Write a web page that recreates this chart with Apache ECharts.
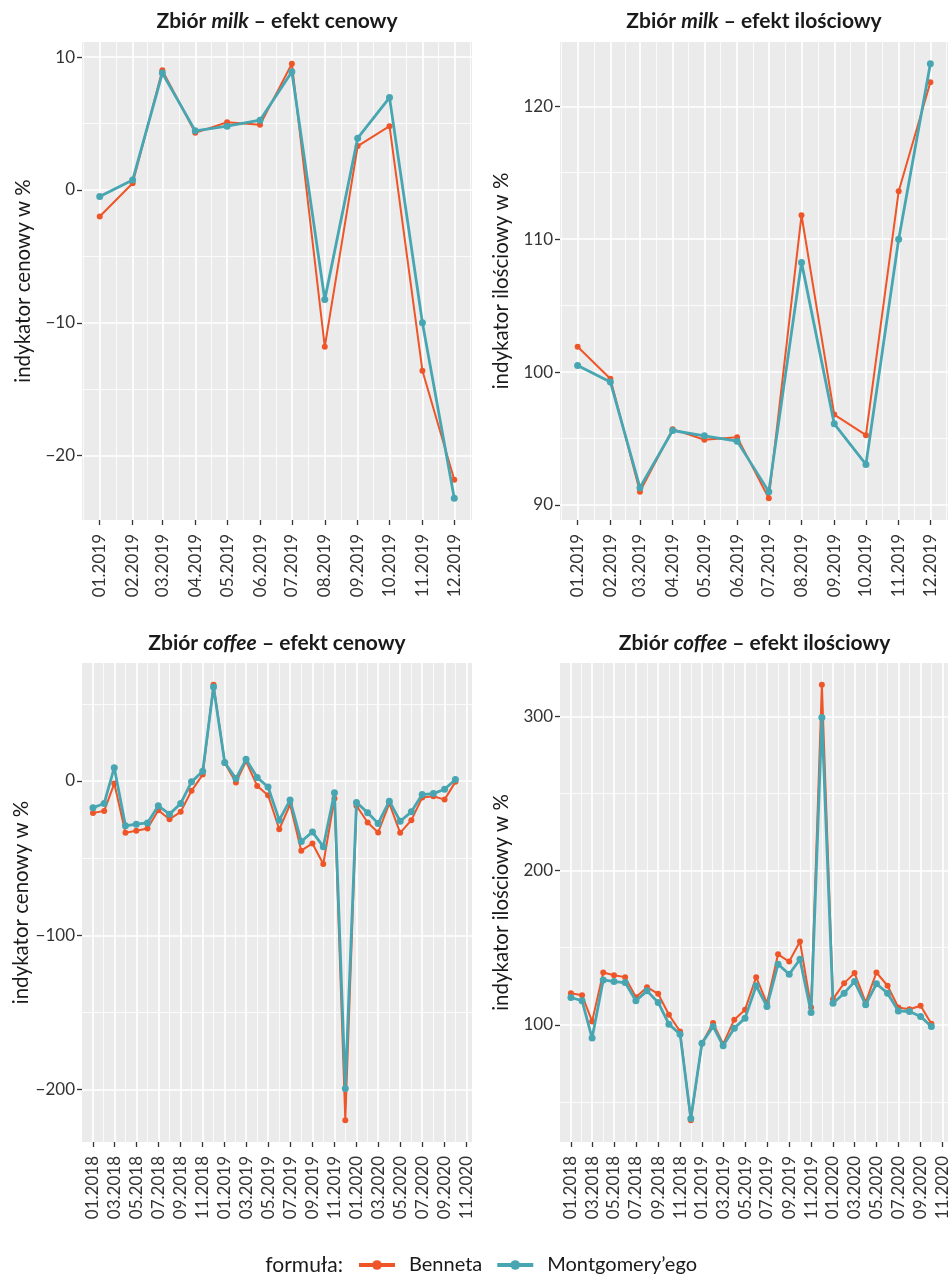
<!DOCTYPE html>
<html>
<head>
<meta charset="utf-8">
<script src="https://cdn.jsdelivr.net/npm/echarts@6/dist/echarts.min.js"></script>
<style>
  html, body { margin: 0; padding: 0; background: #ffffff; }
  #chart { width: 951px; height: 1276px; }
</style>
</head>
<body>
<div id="chart"></div>
<script>
// ---- data: milk (monthly, 2019) ----
const milkMonths = ['2019-01-01','2019-02-01','2019-03-01','2019-04-01','2019-05-01','2019-06-01',
                    '2019-07-01','2019-08-01','2019-09-01','2019-10-01','2019-11-01','2019-12-01'];
const milkPriceBenneta    = [-2.0, 0.5, 9.0, 4.3, 5.1, 4.9, 9.5, -11.8, 3.3, 4.8, -13.6, -21.8];
const milkPriceMontgomery = [-0.5, 0.75, 8.8, 4.45, 4.8, 5.25, 8.9, -8.25, 3.9, 6.95, -10.0, -23.2];
const milkQtyBenneta      = [101.9, 99.5, 91.0, 95.7, 94.9, 95.1, 90.5, 111.8, 96.8, 95.25, 113.6, 121.8];
const milkQtyMontgomery   = [100.5, 99.25, 91.3, 95.6, 95.2, 94.8, 91.0, 108.25, 96.1, 93.05, 110.0, 123.2];

// ---- data: coffee (monthly, 01.2018 - 10.2020) ----
const coffeeMonths = ['2018-01-01','2018-02-01','2018-03-01','2018-04-01','2018-05-01','2018-06-01',
                      '2018-07-01','2018-08-01','2018-09-01','2018-10-01','2018-11-01','2018-12-01',
                      '2019-01-01','2019-02-01','2019-03-01','2019-04-01','2019-05-01','2019-06-01',
                      '2019-07-01','2019-08-01','2019-09-01','2019-10-01','2019-11-01','2019-12-01',
                      '2020-01-01','2020-02-01','2020-03-01','2020-04-01','2020-05-01','2020-06-01',
                      '2020-07-01','2020-08-01','2020-09-01','2020-10-01'];
const coffeePriceBenneta    = [-20.7, -19.4, -1.7, -33.6, -32.3, -30.8, -19.0, -24.8, -20.0, -6.4, 4.1, 62.3,
                               11.7, -1.0, 12.7, -3.2, -9.3, -31.3, -15.3, -45.2, -40.5, -53.8, -11.4, -219.8,
                               -16.1, -26.9, -33.4, -14.6, -33.6, -25.4, -10.8, -9.9, -12.1, -0.6];
const coffeePriceMontgomery = [-17.4, -14.6, 8.6, -29.1, -28.0, -27.2, -16.1, -21.5, -14.6, -0.6, 6.3, 60.8,
                               11.9, 1.5, 14.0, 2.2, -3.9, -25.4, -12.4, -39.2, -33.0, -42.6, -7.7, -199.3,
                               -13.9, -20.6, -27.5, -13.1, -26.1, -20.0, -8.8, -8.2, -5.4, 0.9];
const coffeeQtyBenneta      = [120.5, 119.2, 102.2, 133.9, 132.1, 130.9, 117.9, 124.4, 120.1, 106.5, 95.7, 38.1,
                               88.1, 101.1, 87.5, 103.3, 109.8, 130.9, 114.0, 145.7, 141.0, 154.0, 111.2, 320.5,
                               116.6, 127.0, 133.5, 114.5, 133.9, 125.3, 111.2, 110.1, 112.3, 100.6];
const coffeeQtyMontgomery   = [117.7, 115.6, 91.4, 129.1, 128.0, 127.4, 115.6, 122.0, 114.5, 100.4, 93.9, 39.2,
                               88.1, 98.9, 86.4, 97.8, 104.3, 125.3, 111.9, 139.3, 132.8, 142.5, 108.0, 299.2,
                               114.0, 120.5, 128.0, 113.0, 126.6, 120.5, 109.0, 108.6, 105.4, 98.9];

// ---- axis breaks ----
const milkDateTicks   = ['2019-01-01','2019-02-01','2019-03-01','2019-04-01','2019-05-01','2019-06-01',
                         '2019-07-01','2019-08-01','2019-09-01','2019-10-01','2019-11-01','2019-12-01'];
const coffeeDateTicks = ['2018-01-01','2018-03-01','2018-05-01','2018-07-01','2018-09-01','2018-11-01',
                         '2019-01-01','2019-03-01','2019-05-01','2019-07-01','2019-09-01','2019-11-01',
                         '2020-01-01','2020-03-01','2020-05-01','2020-07-01','2020-09-01','2020-11-01'];
const milkPriceTicks   = [-20, -10, 0, 10];
const milkQtyTicks     = [90, 100, 110, 120];
const coffeePriceTicks = [-200, -100, 0];
const coffeeQtyTicks   = [100, 200, 300];

const seriesNames = ['Benneta', 'Montgomery\u2019ego'];
const COLORS = ['#EE5528', '#47A6B1'];
const FONT = 'Lato, "Noto Sans", sans-serif';
const DAY = 86400000;

// dates are placed on a numeric (millisecond) axis
const ts = s => { const [y, m, d] = s.split('-').map(Number); return Date.UTC(y, m - 1, d); };

// midpoints between neighbouring breaks, extended one step on each side
function minorBreaks(major) {
  const step = major[1] - major[0];
  const ext = [major[0] - step, ...major, major[major.length - 1] + step];
  const out = [];
  for (let i = 0; i < ext.length - 1; i++) out.push((ext[i] + ext[i + 1]) / 2);
  return out;
}
function minorDateBreaks(majorStr, stepMonths) {
  const t = majorStr.map(ts);
  const f = new Date(t[0]); f.setUTCMonth(f.getUTCMonth() - stepMonths);
  const l = new Date(t[t.length - 1]); l.setUTCMonth(l.getUTCMonth() + stepMonths);
  const ext = [f.getTime(), ...t, l.getTime()];
  const out = [];
  for (let i = 0; i < ext.length - 1; i++) out.push((ext[i] + ext[i + 1]) / 2);
  return out;
}
function padRange(values, f) {
  const lo = Math.min(...values), hi = Math.max(...values), r = hi - lo;
  return [lo - r * f, hi + r * f];
}
const fmtDate = v => { const d = new Date(Math.round(v / DAY) * DAY);
  return String(d.getUTCMonth() + 1).padStart(2, '0') + '.' + d.getUTCFullYear(); };
const fmtNum = v => (v < 0 ? '\u2212' + Math.abs(v) : String(v));

const panels = [
  { grid: { left: 82, top: 42, width: 390, height: 478 },
    months: milkMonths, vals: [milkPriceBenneta, milkPriceMontgomery],
    xTicks: milkDateTicks, xStep: 1, xPad: 'auto', yTicks: milkPriceTicks,
    yName: 'indykator cenowy w %', title: ['Zbi\u00f3r ', 'milk', ' \u2013 efekt cenowy'] },
  { grid: { left: 560, top: 42, width: 388, height: 478 },
    months: milkMonths, vals: [milkQtyBenneta, milkQtyMontgomery],
    xTicks: milkDateTicks, xStep: 1, xPad: 'auto', yTicks: milkQtyTicks,
    yName: 'indykator ilo\u015bciowy w %', title: ['Zbi\u00f3r ', 'milk', ' \u2013 efekt ilo\u015bciowy'] },
  { grid: { left: 82, top: 663, width: 390, height: 479 },
    months: coffeeMonths, vals: [coffeePriceBenneta, coffeePriceMontgomery],
    xTicks: coffeeDateTicks, xStep: 2, xPad: [30.4, 15], yTicks: coffeePriceTicks,
    yName: 'indykator cenowy w %', title: ['Zbi\u00f3r ', 'coffee', ' \u2013 efekt cenowy'] },
  { grid: { left: 560, top: 663, width: 389, height: 479 },
    months: coffeeMonths, vals: [coffeeQtyBenneta, coffeeQtyMontgomery],
    xTicks: coffeeDateTicks, xStep: 2, xPad: [30.4, 15], yTicks: coffeeQtyTicks,
    yName: 'indykator ilo\u015bciowy w %', title: ['Zbi\u00f3r ', 'coffee', ' \u2013 efekt ilo\u015bciowy'] }
];

const grids = [], xAxes = [], yAxes = [], series = [], graphics = [];
const TICK_STYLE = { color: '#333333', width: 1.3 };
const LABEL_STYLE = { color: '#333333', fontSize: 17, fontFamily: FONT };

panels.forEach((p, i) => {
  grids.push(Object.assign({ show: true, backgroundColor: '#EBEBEB', borderWidth: 0 }, p.grid));

  const t0 = ts(p.months[0]), t1 = ts(p.months[p.months.length - 1]);
  let xMin, xMax;
  if (p.xPad === 'auto') { const r = t1 - t0; xMin = t0 - 0.05 * r; xMax = t1 + 0.05 * r; }
  else { xMin = t0 - p.xPad[0] * DAY; xMax = ts(p.xTicks[p.xTicks.length - 1]) + p.xPad[1] * DAY; }
  const [yMin, yMax] = padRange(p.vals[0].concat(p.vals[1]), 0.05);

  const xMajor = p.xTicks.map(ts);
  const xMinor = minorDateBreaks(p.xTicks, p.xStep);
  const yMinor = minorBreaks(p.yTicks);

  xAxes.push({
    type: 'value', gridIndex: i, min: xMin, max: xMax, scale: true, position: 'bottom',
    axisLine: { show: false, onZero: false },
    axisTick: { show: true, length: 5, lineStyle: TICK_STYLE, customValues: xMajor },
    axisLabel: Object.assign({ show: true, customValues: xMajor, rotate: 90, formatter: fmtDate, margin: 14 }, LABEL_STYLE),
    splitLine: { show: true, lineStyle: { color: '#FFFFFF', width: 1.7 } }
  });
  xAxes.push({
    type: 'value', gridIndex: i, min: xMin, max: xMax, scale: true, position: 'bottom',
    axisLine: { show: false, onZero: false },
    axisTick: { show: false, customValues: xMinor },
    axisLabel: { show: false },
    splitLine: { show: true, lineStyle: { color: '#FFFFFF', width: 0.8 } }
  });
  yAxes.push({
    type: 'value', gridIndex: i, min: yMin, max: yMax, scale: true, position: 'left',
    axisLine: { show: false, onZero: false },
    axisTick: { show: true, length: 5, lineStyle: TICK_STYLE, customValues: p.yTicks },
    axisLabel: Object.assign({ show: true, customValues: p.yTicks, formatter: fmtNum, margin: 7 }, LABEL_STYLE),
    splitLine: { show: true, lineStyle: { color: '#FFFFFF', width: 1.7 } },
    name: p.yName, nameLocation: 'middle', nameGap: 48,
    nameTextStyle: { color: '#1a1a1a', fontSize: 20.5, fontFamily: FONT }
  });
  yAxes.push({
    type: 'value', gridIndex: i, min: yMin, max: yMax, scale: true, position: 'left',
    axisLine: { show: false, onZero: false },
    axisTick: { show: false, customValues: yMinor },
    axisLabel: { show: false },
    splitLine: { show: true, lineStyle: { color: '#FFFFFF', width: 0.8 } }
  });

  p.vals.forEach((vals, s) => {
    series.push({
      name: seriesNames[s], type: 'line',
      xAxisIndex: 2 * i, yAxisIndex: 2 * i,
      data: p.months.map((m, k) => [ts(m), vals[k]]),
      symbol: 'circle', symbolSize: s === 0 ? 6 : 7, showSymbol: true,
      lineStyle: { color: COLORS[s], width: s === 0 ? 2 : 2.8 },
      itemStyle: { color: COLORS[s] },
      emphasis: { disabled: true },
      z: 2 + s
    });
  });

  graphics.push({
    type: 'text',
    x: p.grid.left + p.grid.width / 2, y: 21 + (i >= 2 ? 622 : 0),
    style: {
      text: '{b|' + p.title[0] + '}{i|' + p.title[1] + '}{b|' + p.title[2] + '}',
      align: 'center', verticalAlign: 'middle',
      rich: {
        b: { fontFamily: FONT, fontWeight: 'bold', fontSize: 21, fill: '#1a1a1a' },
        i: { fontFamily: FONT, fontWeight: 'bold', fontStyle: 'italic', fontSize: 21, fill: '#1a1a1a' }
      }
    }
  });
});

graphics.push({
  type: 'text', x: 343, y: 1265,
  style: { text: 'formu\u0142a:', align: 'right', verticalAlign: 'middle',
           fontFamily: FONT, fontSize: 21, fill: '#1a1a1a' }
});

const chart = echarts.init(document.getElementById('chart'), null, { renderer: 'canvas' });
chart.setOption({
  animation: false,
  backgroundColor: '#ffffff',
  grid: grids,
  xAxis: xAxes,
  yAxis: yAxes,
  series: series,
  graphic: graphics,
  legend: {
    data: seriesNames, left: 357, top: 1255, padding: 0,
    itemWidth: 36, itemHeight: 12, itemGap: 13,
    lineStyle: { width: 4 },
    textStyle: { fontFamily: FONT, fontSize: 20, color: '#1a1a1a', padding: [0, 0, 0, 9] }
  }
});
</script>
</body>
</html>
